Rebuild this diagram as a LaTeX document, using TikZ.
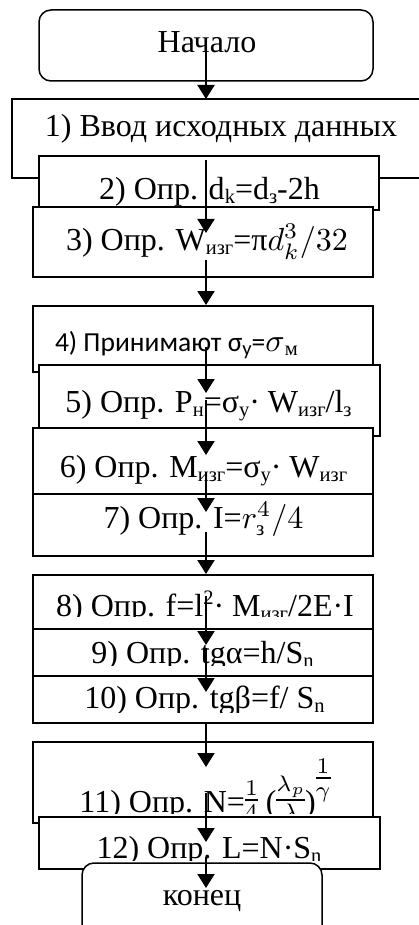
\documentclass[tikz,border=0pt]{standalone}
\usepackage{graphicx}
\usepackage{fontspec}
\setmainfont{Liberation Serif}
\newfontfamily\calfont{Carlito}
\usetikzlibrary{arrows.meta}
\newcommand\sbs[1]{\raisebox{-4pt}{\fontsize{20.5}{20}\selectfont #1}}
\newcommand\sps[1]{\raisebox{12pt}{\fontsize{20.5}{20}\selectfont #1}}
\newcommand\mth[1]{\scalebox{3.2}{\fontsize{10}{12}\selectfont\nulldelimiterspace=0pt$#1$}}
\tikzset{
  box/.style={draw, line width=1.5pt, fill=white, rectangle, inner sep=0pt, outer sep=0pt},
  rbox/.style={box, rounded corners=12pt},
  lbl/.style={anchor=base, inner sep=0pt, outer sep=0pt, font=\fontsize{32}{36}\selectfont},
  arr/.style={line width=2pt, -{Triangle[length=14pt,width=17pt]}},
}
\begin{document}
\begin{tikzpicture}[x=1pt,y=-1pt]
\useasboundingbox (0,0) rectangle (419,925);
\clip (0,0) rectangle (419,925);
\fill[white] (0,0) rectangle (419,925);
% Start
\node[rbox, minimum width=334pt, minimum height=71pt] (n0) at (206,45.5) {};
\node[lbl] (t0) at (207,53) {Начало};
% 1
\node[box, minimum width=428pt, minimum height=79pt] (b1) at (226,138.5) {};
\node[lbl] (t1) at (221,137) {1) Ввод исходных данных};
% 2
\node[box, minimum width=340pt, minimum height=54pt] (b2) at (209,183) {};
\node[lbl] (t2) at (209.5,200) {2) Опр. d\sbs{k}=d\sbs{з}-2h};
% 3
\node[box, minimum width=340pt, minimum height=70pt] (b3) at (203,242) {};
\node[lbl] (t3) at (207,250) {3) Опр. W\sbs{изг}=π\mth{d_k^3/32}};
% 4
\node[box, minimum width=340pt, minimum height=66pt] (b4) at (203,339) {};
\node[lbl, anchor=base west, font=\fontsize{27.5}{34}\selectfont\calfont] (t4) at (55,351) {4) Принимают σ\sbs{у}=\mth{\sigma}\sbs{\rmfamily м}};
% 5
\node[box, minimum width=341pt, minimum height=71pt] (b5) at (209.5,400.5) {};
\node[lbl] (t5) at (208.5,412) {5) Опр. P\sbs{н}=σ\sbs{у}· W\sbs{изг}/l\sbs{з}};
% 6
\node[box, minimum width=340pt, minimum height=66pt] (b6) at (203,461) {};
\node[lbl] (t6) at (203.5,477) {6) Опр. M\sbs{изг}=σ\sbs{у}· W\sbs{изг}};
% 7
\node[box, minimum width=340pt, minimum height=62pt] (b7) at (203,525) {};
\node[lbl] (t7) at (203.5,528) {7) Опр. I=\mth{r_{\mbox{\fontsize{6.5}{7}\selectfont з}}^4/4}};
% 8
\node[box, minimum width=340pt, minimum height=54pt] (b8) at (203,602) {};
\begin{scope}
\clip (33,575) rectangle (373,616);
\node[lbl] (t8) at (205,616) {8) Опр. f=l\sps{2}· M\sbs{изг}/2E·I};
\end{scope}
% 9
\node[box, minimum width=340pt, minimum height=47pt] (b9) at (203,652.5) {};
\begin{scope}
\clip (33,629) rectangle (373,665);
\node[lbl] (t9) at (202.5,663) {9) Опр. tgα=h/S\sbs{n}};
\end{scope}
% 10
\node[box, minimum width=340pt, minimum height=47pt] (b10) at (203,699.5) {};
\begin{scope}
\clip (33,676) rectangle (373,712);
\node[lbl] (t10) at (204.5,708) {10) Опр. tgβ=f/ S\sbs{n}};
\end{scope}
% 11
\node[box, minimum width=340pt, minimum height=81pt] (b11) at (203,782.5) {};
\begin{scope}
\clip (33,742) rectangle (373,813);
\node[lbl] (t11) at (205,812) {11) Опр. N=\raisebox{4pt}{\mth{\frac{1}{4}}} (\raisebox{4pt}{\mth{\frac{\lambda_p}{\lambda}}})\raisebox{26pt}{\mth{\frac{1}{\gamma}}}};
\end{scope}
% 12
\node[box, minimum width=341pt, minimum height=52pt] (b12) at (209.5,843) {};
\begin{scope}
\clip (39,817) rectangle (380,860);
\node[lbl] (t12) at (209,858) {12) Опр. L=N·S\sbs{n}};
\end{scope}
% End
\node[rbox, minimum width=240pt, minimum height=97pt] (n13) at (202,911.5) {};
\node[lbl] (t13) at (202,905) {конец};
% arrows
\coordinate (a1s) at (206,52);  \coordinate (a1e) at (206,99);
\coordinate (a2s) at (206,160); \coordinate (a2e) at (206,233);
\coordinate (a3s) at (206,260); \coordinate (a3e) at (206,305);
\coordinate (a4s) at (206,347); \coordinate (a4e) at (206,393);
\coordinate (a5s) at (206,400); \coordinate (a5e) at (206,455);
\coordinate (a6s) at (206,472); \coordinate (a6e) at (206,512);
\coordinate (a7s) at (206,532); \coordinate (a7e) at (206,574);
\coordinate (a8s) at (206,596); \coordinate (a8e) at (206,645);
\coordinate (a9s) at (206,648); \coordinate (a9e) at (206,692);
\coordinate (a10s) at (206,723); \coordinate (a10e) at (206,767);
\coordinate (a11s) at (206,793); \coordinate (a11e) at (206,842);
\coordinate (a12s) at (206,857); \coordinate (a12e) at (206,888);
\foreach \i in {1,...,12} { \draw[arr] (a\i s) -- (a\i e); }
\end{tikzpicture}
\end{document}
